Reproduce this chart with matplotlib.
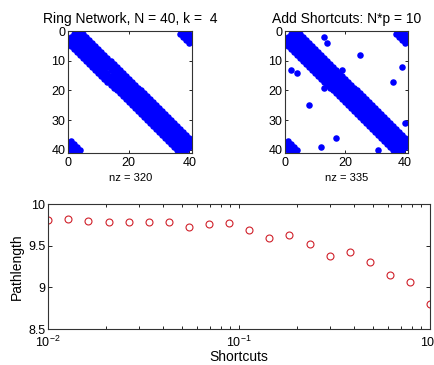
import numpy as np
import matplotlib
matplotlib.use('Agg')
import matplotlib.pyplot as plt

#%% data
N = 40
k = 4
# shortcut entries (row, col)
shortcut_rows = [2, 13, 4, 14, 8, 25, 13, 19, 12, 39, 17, 36, 31, 40]
shortcut_cols = [13, 2, 14, 4, 25, 8, 19, 13, 39, 12, 36, 17, 40, 31]

shortcuts = [0.01, 0.0127, 0.0162, 0.0207, 0.0264, 0.0336, 0.0428, 0.0546,
             0.0695, 0.0886, 0.113, 0.144, 0.183, 0.234, 0.298, 0.379,
             0.483, 0.616, 0.785, 1.0]
pathlength = [9.81, 9.82, 9.80, 9.78, 9.78, 9.79, 9.78, 9.72, 9.76, 9.77,
              9.69, 9.59, 9.63, 9.52, 9.38, 9.42, 9.31, 9.15, 9.06, 8.80]

#%% ring adjacency (1-based like matlab)
ring_rows = []
ring_cols = []
for i in range(1, N + 1):
    for d in range(1, k + 1):
        ring_rows += [i, i]
        ring_cols += [(i - 1 + d) % N + 1, (i - 1 - d) % N + 1]

plt.rcParams.update({
    'font.family': ['Liberation Sans', 'DejaVu Sans'],
    'mathtext.fontset': 'custom',
    'mathtext.rm': 'Liberation Sans',
    'mathtext.it': 'Liberation Sans:italic',
    'mathtext.bf': 'Liberation Sans:bold',
    'font.size': 8,
    'xtick.direction': 'in',
    'ytick.direction': 'in',
    'xtick.top': True,
    'ytick.right': True,
    'axes.linewidth': 0.8,
    'axes.edgecolor': '#333333',
})

fig = plt.figure(figsize=(4.34, 3.65), dpi=100)


def spy_axes(pos, rows, cols, title, nz):
    ax = fig.add_axes(pos)
    ax.plot(cols, rows, 'o', color='blue', markersize=4.7, markeredgewidth=0)
    ax.set_xlim(0, N + 1)
    ax.set_ylim(N + 1, 0)
    ax.set_xticks([0, 20, 40])
    ax.set_yticks([0, 10, 20, 30, 40])
    ax.tick_params(length=2.5, width=0.6, labelsize=9, pad=2)
    ax.tick_params(axis='x', pad=3)
    ax.set_title(title, fontsize=10, pad=6)
    ax.set_xlabel('nz = %d' % nz, fontsize=8, labelpad=3)
    return ax


spy_axes([0.157, 0.581, 0.286, 0.334], ring_rows, ring_cols,
         'Ring Network, N = 40, k =  4', len(ring_rows))
spy_axes([0.657, 0.581, 0.283, 0.334], ring_rows + shortcut_rows,
         ring_cols + shortcut_cols, 'Add Shortcuts: N*p = 10', 335)

#%% path length vs shortcuts
ax3 = fig.add_axes([0.111, 0.0986, 0.880, 0.342])
ax3.semilogx(shortcuts, pathlength, 'o', markerfacecolor='none',
             markeredgecolor='#d0202a', markersize=5, markeredgewidth=0.8)
ax3.set_xlim(0.01, 1)
ax3.set_ylim(8.5, 10)
ax3.set_yticks([8.5, 9, 9.5, 10])
ax3.set_yticklabels(['8.5', '9', '9.5', '10'])
ax3.tick_params(which='major', length=3, width=0.6, labelsize=9, pad=2)
ax3.tick_params(axis='x', which='major', pad=4)
ax3.tick_params(which='minor', length=2, width=0.6)
ax3.set_xlabel('Shortcuts', fontsize=10, labelpad=0)
ax3.set_ylabel('Pathlength', fontsize=10, labelpad=3)

plt.savefig('out.png', dpi=100)
